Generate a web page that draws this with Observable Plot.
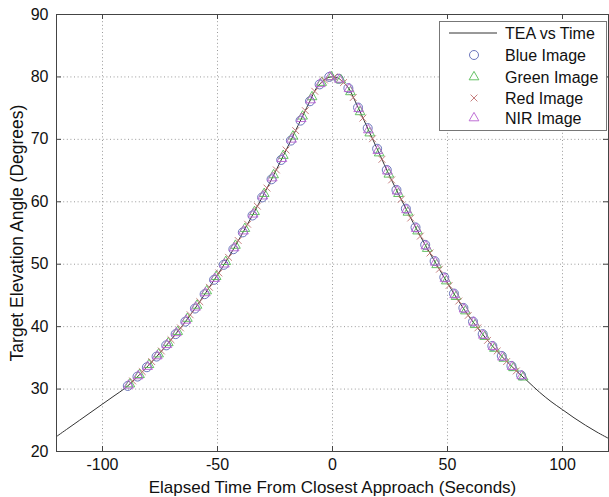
<!DOCTYPE html>
<html>
<head>
<meta charset="utf-8">
<script src="https://cdn.jsdelivr.net/npm/d3@7"></script>
<script src="https://cdn.jsdelivr.net/npm/@observablehq/plot@0.6"></script>
<style>
  html, body { margin: 0; padding: 0; background: #fff; }
  #wrap { position: relative; width: 609px; height: 497px; overflow: hidden; }
  #legend { position: absolute; left: 439px; top: 21px; }
</style>
</head>
<body>
<div id="wrap"><div id="chart"></div><svg id="legend" width="169" height="111"></svg></div>
<script>
// ---- tick labels ----
const xTicks = [-100, -50, 0, 50, 100];
const yTicks = [20, 30, 40, 50, 60, 70, 80, 90];

// ---- TEA vs Time curve ----
const curveT = [-120,-115,-110,-105,-100,-95,-90,-85,-80,-75,-70,-65,-60,-55,-50,-45,-40,-35,-30,-25,-20,-15,-10,-7,-4,-2,0,2,4,7,10,15,20,25,30,35,40,45,50,55,60,65,70,75,80,85,90,95,100,105,110,115,120];
const curveA = [22.4,23.7,25.0,26.3,27.6,28.9,30.2,31.9,33.8,35.8,38.0,40.3,42.8,45.5,48.3,51.2,54.4,57.7,61.1,64.7,68.4,72.2,76.0,78.2,79.4,79.9,80.0,79.9,79.4,78.2,76.0,72.0,68.0,64.0,60.3,56.7,53.3,50.1,47.0,44.0,41.3,38.9,36.7,34.7,32.9,31.2,29.5,28.0,26.7,25.4,24.2,23.1,22.1];

// ---- Blue Image ----
const blueT = [-89.0,-84.8,-80.7,-76.5,-72.3,-68.2,-64.0,-59.8,-55.6,-51.5,-47.3,-43.1,-39.0,-34.8,-30.6,-26.5,-22.3,-18.1,-13.9,-9.8,-5.6,-1.4,2.7,6.9,11.1,15.3,19.4,23.6,27.8,31.9,36.1,40.3,44.4,48.6,52.8,56.9,61.1,65.3,69.5,73.6,77.8,82.0];
const blueA = [30.5,32.0,33.5,35.2,37.0,38.8,40.8,42.9,45.2,47.5,49.9,52.4,55.1,57.8,60.7,63.6,66.7,69.8,73.0,76.1,78.8,80.0,79.7,78.2,75.1,71.8,68.5,65.1,61.9,58.9,55.9,53.1,50.5,47.9,45.3,43.0,40.8,38.8,36.9,35.3,33.7,32.2];

// ---- Green Image ----
const greenT = [-88.1,-83.9,-79.8,-75.6,-71.4,-67.3,-63.1,-58.9,-54.7,-50.6,-46.4,-42.2,-38.1,-33.9,-29.7,-25.6,-21.4,-17.2,-13.0,-8.9,-4.7,-0.5,3.6,7.8,12.0,16.2,20.3,24.5,28.7,32.8,37.0,41.2,45.3,49.5,53.7,57.8,62.0,66.2,70.4,74.5,78.7,82.9];
const greenA = [30.8,32.3,33.9,35.6,37.4,39.2,41.3,43.4,45.7,48.0,50.4,53.0,55.7,58.4,61.3,64.3,67.4,70.5,73.7,76.8,79.1,80.0,79.5,77.6,74.4,71.0,67.8,64.4,61.3,58.3,55.3,52.5,49.9,47.3,44.8,42.5,40.3,38.4,36.5,34.9,33.4,31.9];

// ---- Red Image ----
const redT = [-86.9,-82.7,-78.6,-74.4,-70.2,-66.1,-61.9,-57.7,-53.5,-49.4,-45.2,-41.0,-36.9,-32.7,-28.5,-24.4,-20.2,-16.0,-11.8,-7.7,-3.5,0.7,4.8,9.0,13.2,17.4,21.5,25.7,29.9,34.0,38.2,42.4,46.5,50.7,54.9,59.0,63.2,67.4,71.6,75.7,79.9];
const redA = [31.3,32.8,34.4,36.1,37.9,39.8,41.9,44.0,46.3,48.6,51.1,53.8,56.4,59.3,62.2,65.1,68.3,71.4,74.6,77.7,79.5,80.0,79.1,76.7,73.4,70.1,66.8,63.5,60.4,57.4,54.5,51.8,49.2,46.6,44.1,41.8,39.8,37.8,36.1,34.4,32.9];

// ---- NIR Image ----
const nirT = [-88.7,-84.5,-80.4,-76.2,-72.0,-67.9,-63.7,-59.5,-55.3,-51.2,-47.0,-42.8,-38.7,-34.5,-30.3,-26.2,-22.0,-17.8,-13.6,-9.5,-5.3,-1.1,3.0,7.2,11.4,15.6,19.7,23.9,28.1,32.2,36.4,40.6,44.7,48.9,53.1,57.2,61.4,65.6,69.8,73.9,78.1,82.3];
const nirA = [30.6,32.1,33.6,35.3,37.1,39.0,41.0,43.1,45.4,47.7,50.0,52.6,55.3,58.0,60.9,63.8,66.9,70.0,73.3,76.3,78.9,80.0,79.6,78.1,74.9,71.5,68.2,64.9,61.7,58.7,55.7,52.9,50.3,47.7,45.1,42.8,40.7,38.6,36.8,35.1,33.6,32.1];

const legendLabels = ["TEA vs Time", "Blue Image", "Green Image", "Red Image", "NIR Image"];

const toRows = (T, A) => T.map((t, i) => ({t, a: A[i]}));
const curve = toRows(curveT, curveA);
const blue = toRows(blueT, blueA);
const green = toRows(greenT, greenA);
const red = toRows(redT, redA);
const nir = toRows(nirT, nirA);

const FONT = "'Liberation Sans', Arial, Helvetica, sans-serif";
const C = {line: "#333", blue: "#5b66b3", green: "#55bb55", red: "#c07070", nir: "#b860d0"};
const gridStyle = {stroke: "#9a9a9a", strokeDasharray: "1,2.6", strokeWidth: 1};
const inner = 497 - 14 - 46;
const innerW = 609 - 56 - 1;

const chart = Plot.plot({
  width: 609, height: 497,
  marginLeft: 56, marginRight: 1, marginTop: 14, marginBottom: 46,
  style: {fontFamily: FONT, fontSize: "16px", color: "#111", background: "#fff"},
  x: {domain: [-120, 120]},
  y: {domain: [20, 90]},
  marks: [
    Plot.ruleX(xTicks, {x: d => d, ...gridStyle}),
    Plot.ruleY(yTicks.filter(v => v > 20 && v < 90), {y: d => d, ...gridStyle}),
    Plot.line(curve, {x: "t", y: "a", stroke: C.line, strokeWidth: 1, curve: "catmull-rom"}),
    Plot.dot(blue, {x: "t", y: "a", symbol: "circle", r: 4.5, stroke: C.blue, strokeWidth: 0.9, fill: "none"}),
    Plot.dot(green, {x: "t", y: "a", symbol: "triangle", r: 3.6, stroke: C.green, strokeWidth: 0.9, fill: "none"}),
    Plot.dot(red, {x: "t", y: "a", symbol: "times", r: 3.2, stroke: C.red, strokeWidth: 0.9, fill: "none"}),
    Plot.dot(nir, {x: "t", y: "a", symbol: "triangle", r: 3.6, stroke: C.nir, strokeWidth: 0.9, fill: "none"}),
    Plot.tickX(xTicks, {x: d => d, insetTop: inner - 5, stroke: "#444"}),
    Plot.tickX(xTicks, {x: d => d, insetBottom: inner - 5, stroke: "#444"}),
    Plot.tickY(yTicks, {y: d => d, insetRight: innerW - 5, stroke: "#444"}),
    Plot.tickY(yTicks, {y: d => d, insetLeft: innerW - 5, stroke: "#444"}),
    Plot.frame({stroke: "#444", strokeWidth: 1}),
    Plot.axisX(xTicks, {tickSize: 0, tickPadding: 7, tickFormat: d => String(d), fontSize: 16, label: null}),
    Plot.axisX({ticks: [], tickSize: 0, label: "Elapsed Time From Closest Approach (Seconds)",
      labelAnchor: "center", labelOffset: 41, labelArrow: "none", fontSize: 17}),
    Plot.axisY(yTicks, {tickSize: 0, tickPadding: 8, tickFormat: d => String(d), fontSize: 16, label: null}),
    Plot.axisY({ticks: [], tickSize: 0, label: "Target Elevation Angle (Degrees)",
      labelAnchor: "center", labelOffset: 46, labelArrow: "none", fontSize: 17.5})
  ]
});
document.getElementById("chart").appendChild(chart);

// ---- legend (inside plot area, top right) ----
const lg = d3.select("#legend");
lg.append("rect").attr("x", 0.5).attr("y", 0.5).attr("width", 167).attr("height", 109)
  .attr("fill", "#fff").attr("stroke", "#777").attr("stroke-width", 1);
const rowsY = [12, 34, 56, 77, 97];
const styles = [
  {type: "line", color: C.line},
  {type: d3.symbolCircle, size: Math.PI * 4.5 * 4.5, color: C.blue},
  {type: d3.symbolTriangle, size: Math.PI * 3.6 * 3.6, color: C.green},
  {type: d3.symbolTimes, size: Math.PI * 3.2 * 3.2, color: C.red},
  {type: d3.symbolTriangle, size: Math.PI * 3.6 * 3.6, color: C.nir}
];
legendLabels.forEach((lab, i) => {
  const y = rowsY[i], s = styles[i];
  if (s.type === "line") {
    lg.append("line").attr("x1", 10).attr("x2", 58).attr("y1", y).attr("y2", y)
      .attr("stroke", s.color).attr("stroke-width", 1);
  } else {
    lg.append("path").attr("d", d3.symbol(s.type, s.size)())
      .attr("transform", `translate(35,${y})`).attr("fill", "none")
      .attr("stroke", s.color).attr("stroke-width", 0.9);
  }
  lg.append("text").attr("x", 66).attr("y", y).attr("dy", "0.35em")
    .attr("font-family", FONT).attr("font-size", 16).attr("fill", "#111").text(lab);
});
</script>
</body>
</html>
